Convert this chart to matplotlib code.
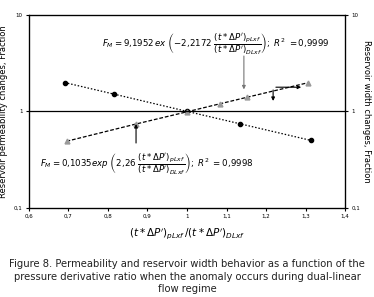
import numpy as np
import matplotlib
matplotlib.use('Agg')
import matplotlib.pyplot as plt

# permeability (circles) and width (triangles) vs derivative ratio
ratio_perm = [0.69, 0.815, 1.0, 1.134, 1.314]
perm_change = [1.99, 1.51, 1.0, 0.744, 0.50]
ratio_width = [0.695, 0.871, 1.0, 1.084, 1.152, 1.306]
width_change = [0.49, 0.74, 0.99, 1.20, 1.40, 1.98]

xticks = [0.6, 0.7, 0.8, 0.9, 1.0, 1.1, 1.2, 1.3, 1.4]
xtick_labels = ['0,6', '0,7', '0,8', '0,9', '1', '1,1', '1,2', '1,3', '1,4']
yticks = [0.1, 1, 10]
ytick_labels = ['0,1', '1', '10']

plt.rcParams['mathtext.fontset'] = 'dejavusans'

fig = plt.figure(figsize=(3.74, 2.97), dpi=100)
ax = fig.add_axes([0.0775, 0.30, 0.845, 0.65])

ax.plot(ratio_perm, perm_change, color='black', ls=(0, (1.2, 1.5)), lw=0.9,
        marker='o', ms=3, mfc='black', mec='black')
ax.plot(ratio_width, width_change, color='black', ls=(0, (3, 1.5)), lw=0.9,
        marker='^', ms=3.5, mfc='#999999', mec='#999999')

ax.axhline(1, color='black', lw=0.9)
ax.set_yscale('log')
ax.set_xlim(0.6, 1.4)
ax.set_ylim(0.1, 10)
ax.set_xticks(xticks)
ax.set_xticklabels(xtick_labels, fontsize=4)
ax.set_yticks(yticks)
ax.set_yticklabels(ytick_labels, fontsize=4)
ax.yaxis.set_minor_locator(matplotlib.ticker.NullLocator())
ax.tick_params(length=2.5, width=0.8, pad=2)
for s in ax.spines.values():
    s.set_linewidth(0.9)

ax2 = ax.twinx()
ax2.set_yscale('log')
ax2.set_ylim(0.1, 10)
ax2.set_yticks(yticks)
ax2.set_yticklabels(ytick_labels, fontsize=4)
ax2.yaxis.set_minor_locator(matplotlib.ticker.NullLocator())
ax2.tick_params(length=2.5, width=0.8, pad=2)

ax.set_ylabel('Reservoir permeability changes, Fraction', fontsize=6, labelpad=4)
ax2.set_ylabel('Reservoir width changes, Fraction', fontsize=6, rotation=270, labelpad=8)
ax.set_xlabel(r"$(t*\Delta P')_{pLxf}\,/(t*\Delta P')_{DLxf}$", fontsize=7.5, labelpad=5)

frac = r"\dfrac{(t*\Delta P')_{pLxf}}{(t*\Delta P')_{DLxf}}"
ax.text(0.785, 4.9, r"$F_M=9{,}1952\,ex\ \left(-2{,}2172\ " + frac + r"\right);\ R^2\ =0{,}9999$",
        fontsize=6.2, va='center')
ax.text(0.628, 0.285, r"$F_M=0{,}1035exp\ \left(2{,}26\ " + frac + r"\right);\ R^2\ =0{,}9998$",
        fontsize=6.2, va='center')

# arrows
ax.annotate('', xy=(1.144, 1.58), xytext=(1.144, 4.0),
            arrowprops=dict(arrowstyle='-|>', color='#777777', lw=0.8, mutation_scale=5))
ax.annotate('', xy=(0.871, 0.79), xytext=(0.871, 0.44),
            arrowprops=dict(arrowstyle='-|>', color='black', lw=0.8, mutation_scale=5))
ax.annotate('', xy=(1.296, 1.78), xytext=(1.218, 1.78),
            arrowprops=dict(arrowstyle='-|>', color='black', lw=0.8, mutation_scale=5))
ax.annotate('', xy=(1.218, 1.2), xytext=(1.218, 1.78),
            arrowprops=dict(arrowstyle='-|>', color='black', lw=0.8, mutation_scale=5))

fig.text(0.5, 0.01, "Figure 8. Permeability and reservoir width behavior as a function of the\n"
         "pressure derivative ratio when the anomaly occurs during dual-linear\nflow regime",
         ha='center', va='bottom', fontsize=7.2, color='#222222', linespacing=1.3)

fig.savefig('out.png', dpi=100)
